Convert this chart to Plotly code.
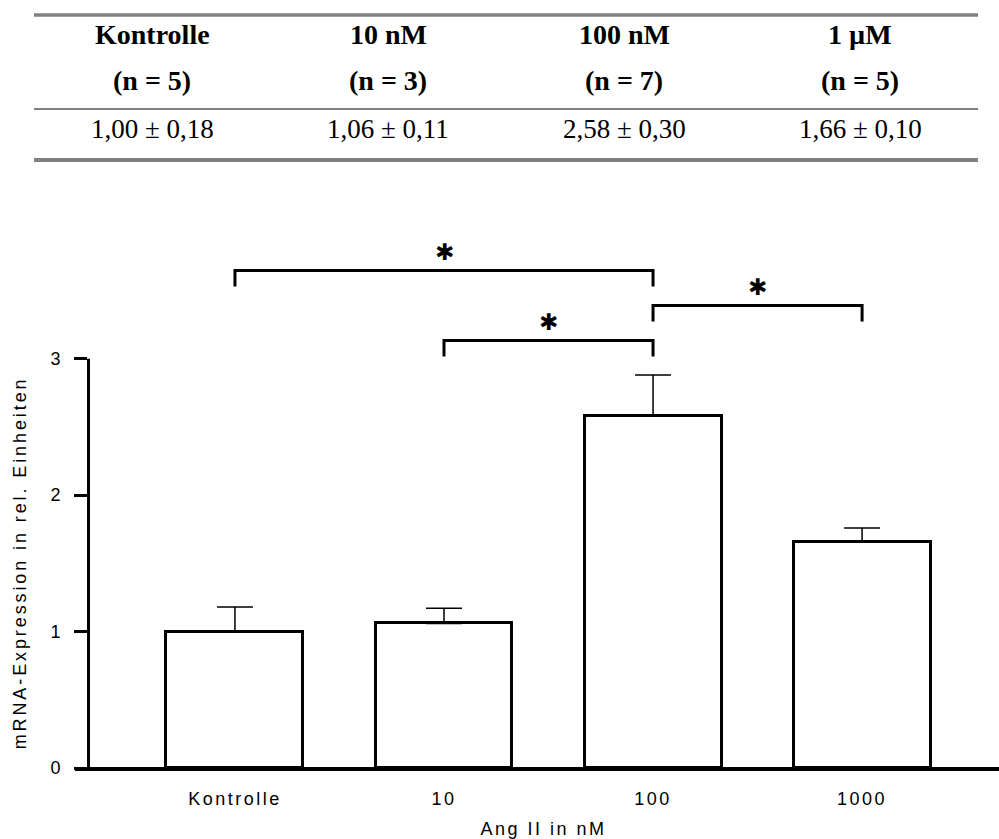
import plotly.graph_objects as go

# ---------------- data ----------------
categories = ["Kontrolle", "10", "100", "1000"]
means = [1.00, 1.06, 2.58, 1.66]
sems = [0.18, 0.11, 0.30, 0.10]

table_headers = ["Kontrolle", "10 nM", "100 nM", "1 µM"]
table_n = ["(n = 5)", "(n = 3)", "(n = 7)", "(n = 5)"]
table_values = ["1,00 ± 0,18", "1,06 ± 0,11", "2,58 ± 0,30", "1,66 ± 0,10"]

comparisons = [(0, 2), (1, 2), (2, 3)]
y_ticks = [0, 1, 2, 3]

x_title = "Ang II in nM"
y_title = "mRNA-Expression in rel. Einheiten"

# ---------------- layout constants ----------------
W, H = 999, 839
L, R, T, B = 88, 0, 240, 71
Y_MAX = 3.87
X_MIN, X_MAX = -0.703, 3.655
bracket_levels = [3.646, 3.133, 3.39]
leg = 0.117
star_gap = 0.135

def px_x(px):
    return (px - L) / (W - L - R)

def px_y(py):
    return (H - B - py) / (H - T - B)

def spaced(s, sp):
    return f'<span style="letter-spacing:{sp}px">{s}</span>'

fig = go.Figure()
fig.add_trace(go.Bar(
    x=categories, y=means, width=0.655,
    marker=dict(color="white", line=dict(color="black", width=3)),
    error_y=dict(type="data", symmetric=False, array=sems,
                 arrayminus=[0] * len(sems), color="black",
                 thickness=1.5, width=18),
    showlegend=False,
))

shapes = []
annotations = []

# axis lines
shapes.append(dict(type="line", xref="paper", yref="paper",
                   x0=px_x(75), x1=1, y0=px_y(769), y1=px_y(769),
                   line=dict(color="black", width=4)))
shapes.append(dict(type="line", xref="paper", yref="paper",
                   x0=px_x(88.5), x1=px_x(88.5), y0=px_y(770), y1=y_ticks[-1] / Y_MAX,
                   line=dict(color="black", width=3)))

# y axis title, centred on the drawn axis (0..3)
annotations.append(dict(x=px_x(20), xref="paper", y=(y_ticks[0] + y_ticks[-1]) / 2, yref="y",
                        text=spaced(y_title, 2.9), textangle=-90, showarrow=False,
                        xanchor="center", yanchor="middle",
                        font=dict(family="Liberation Sans, Arial, sans-serif", size=18, color="black")))

# significance brackets
for (i, j), lev in zip(comparisons, bracket_levels):
    shapes.append(dict(type="path", xref="x", yref="y",
                       path=f"M {i},{lev - leg} L {i},{lev} L {j},{lev} L {j},{lev - leg}",
                       line=dict(color="black", width=3)))
    annotations.append(dict(x=(i + j) / 2, y=lev + star_gap, xref="x", yref="y",
                            text="✱", showarrow=False,
                            font=dict(family="DejaVu Sans", size=23, color="black")))

# table
tbl_left, tbl_right = 34, 978
col_w = (tbl_right - tbl_left) / len(table_headers)
for py, wdt in [(15, 3.5), (109, 2.2), (160, 4)]:
    shapes.append(dict(type="line", xref="paper", yref="paper",
                       x0=px_x(tbl_left), x1=px_x(tbl_right), y0=px_y(py), y1=px_y(py),
                       line=dict(color="#808080", width=wdt)))
serif = "Liberation Serif, Times New Roman, serif"
for k in range(len(table_headers)):
    cx = px_x(tbl_left + (k + 0.5) * col_w)
    for txt, py, sz in [(f"<b>{table_headers[k]}</b>", 34, 28), (f"<b>{table_n[k]}</b>", 80, 28),
                        (table_values[k], 129, 27)]:
        annotations.append(dict(x=cx, y=px_y(py), xref="paper", yref="paper",
                                text=txt, showarrow=False, xanchor="center", yanchor="middle",
                                font=dict(family=serif, size=sz, color="black")))

sans = "Liberation Sans, Arial, sans-serif"
fig.update_layout(
    width=W, height=H,
    margin=dict(l=L, r=R, t=T, b=B),
    plot_bgcolor="white", paper_bgcolor="white",
    font=dict(family=sans, size=18, color="black"),
    xaxis=dict(range=[X_MIN, X_MAX], showgrid=False, zeroline=False, showline=False,
               tickvals=categories, ticktext=[spaced(c, 2.5) for c in categories],
               ticks="", ticklabelstandoff=18,
               title=dict(text=spaced(x_title, 2.5), standoff=15,
                          font=dict(family=sans, size=18))),
    yaxis=dict(range=[0, Y_MAX], showgrid=False, zeroline=False, showline=False,
               tickvals=y_ticks, ticks="outside", ticklen=13, tickwidth=3,
               tickcolor="black", ticklabelstandoff=10),
    shapes=shapes,
    annotations=annotations,
    bargap=0,
)

fig.write_html("out.html", config={"displayModeBar": False},
               post_script="document.body.style.margin='0';document.body.style.overflow='hidden';")
